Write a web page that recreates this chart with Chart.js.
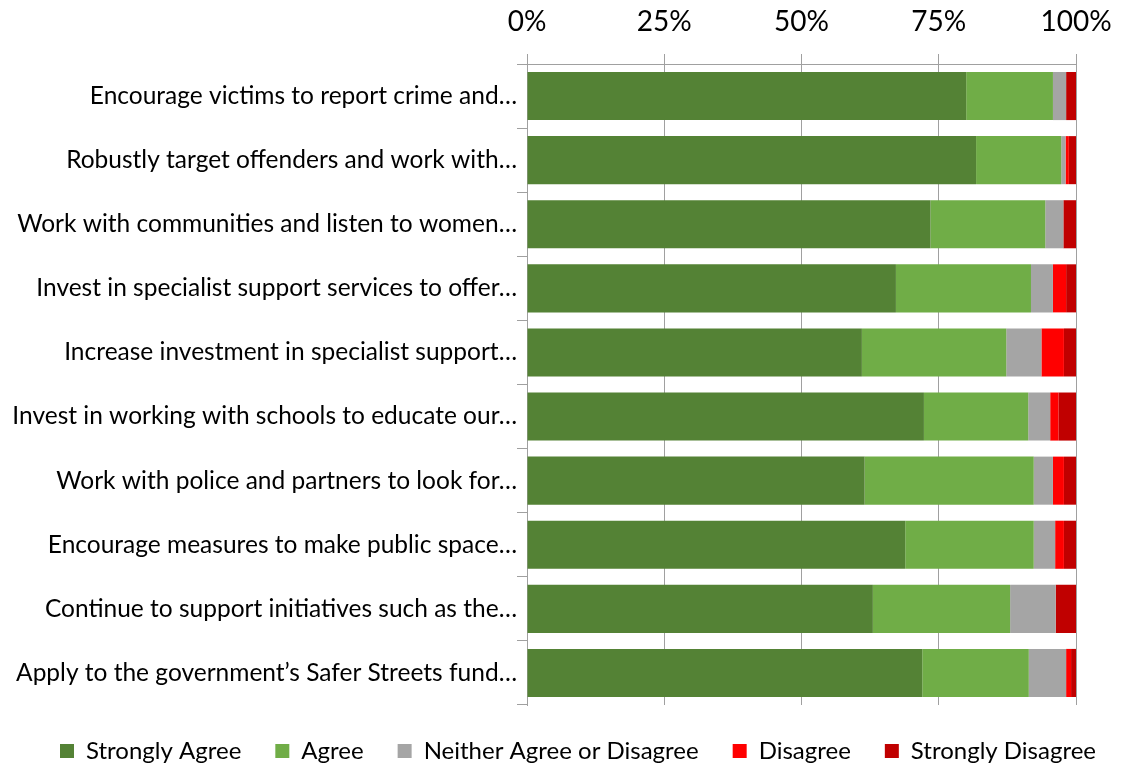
<!DOCTYPE html>
<html>
<head>
<meta charset="utf-8">
<script src="https://cdn.jsdelivr.net/npm/chart.js@4/dist/chart.umd.min.js"></script>
<style>
  html, body { margin: 0; padding: 0; background: #fff; }
  #wrap { width: 1122px; height: 769px; }
</style>
</head>
<body>
<div id="wrap"><canvas id="barChart"></canvas></div>
<script>
// Pernyataan (sudah dipotong seperti di laporan)
const labels = [
  'Encourage victims to report crime and…',
  'Robustly target offenders and work with…',
  'Work with communities and listen to women…',
  'Invest in specialist support services to offer…',
  'Increase investment in specialist support…',
  'Invest in working with schools to educate our…',
  'Work with police and partners to look for…',
  'Encourage measures to make public space…',
  'Continue to support initiatives such as the…',
  'Apply to the government’s Safer Streets fund…'
];

// Persentase jawaban per pernyataan
const stronglyAgree    = [80.0, 81.8, 73.5, 67.2, 61.0, 72.3, 61.5, 68.9, 63.0, 72.0];
const agree            = [15.8, 15.5, 20.9, 24.6, 26.3, 19.0, 30.8, 23.4, 25.0, 19.4];
const neither          = [2.4, 0.8, 3.3, 4.0, 6.4, 4.0, 3.5, 3.9, 8.3, 6.8];
const disagree         = [0.0, 0.6, 0.0, 2.4, 4.1, 1.5, 2.0, 1.6, 0.0, 0.9];
const stronglyDisagree = [1.8, 1.3, 2.3, 1.8, 2.2, 3.2, 2.2, 2.2, 3.7, 0.9];

const xTicks = [0, 25, 50, 75, 100];

const fontFamily = 'Lato, "Noto Sans", sans-serif';
const gridColor = '#a0a0a0';

function seri(label, data, color) {
  return {
    label: label,
    data: data,
    backgroundColor: color,
    borderWidth: 0,
    barPercentage: 0.75,
    categoryPercentage: 1.0
  };
}

// geser legenda sedikit ke kanan
const geserLegenda = {
  id: 'geserLegenda',
  afterLayout(chart) {
    chart.legend.left += 17;
    chart.legend.right += 17;
  }
};

new Chart(document.getElementById('barChart'), {
  type: 'bar',
  data: {
    labels: labels,
    datasets: [
      seri('Strongly Agree', stronglyAgree, '#548235'),
      seri('Agree', agree, '#70ad47'),
      seri('Neither Agree or Disagree', neither, '#a5a5a5'),
      seri('Disagree', disagree, '#ff0000'),
      seri('Strongly Disagree', stronglyDisagree, '#c00000')
    ]
  },
  options: {
    indexAxis: 'y',
    responsive: true,
    maintainAspectRatio: false,
    animation: false,
    layout: { padding: { left: 0, right: 0, top: 0, bottom: -4 } },
    scales: {
      x: {
        stacked: true,
        position: 'top',
        min: 0,
        max: 100,
        afterBuildTicks: s => { s.ticks = xTicks.map(v => ({ value: v })); },
        // sumbu atas: tinggi tetap, sisa ruang kanan untuk label 100%
        afterFit: s => { s.height = 64; s.paddingRight = 46; },
        ticks: {
          callback: v => v + '%',
          color: '#000',
          padding: 15,
          maxRotation: 0,
          font: { family: fontFamily, size: 28 }
        },
        grid: { color: gridColor, lineWidth: 1, tickLength: 10 },
        border: { color: gridColor }
      },
      y: {
        stacked: true,
        afterFit: s => { s.width = 527; },
        ticks: {
          color: '#000',
          padding: 0,
          font: { family: fontFamily, size: 24.5 }
        },
        grid: { drawOnChartArea: false, color: gridColor, tickLength: 10 },
        border: { color: gridColor }
      }
    },
    plugins: {
      legend: {
        position: 'bottom',
        labels: {
          boxWidth: 14,
          boxHeight: 14,
          padding: 34,
          color: '#000',
          font: { family: fontFamily, size: 24 }
        }
      },
      tooltip: { enabled: false }
    }
  },
  plugins: [geserLegenda]
});
</script>
</body>
</html>
